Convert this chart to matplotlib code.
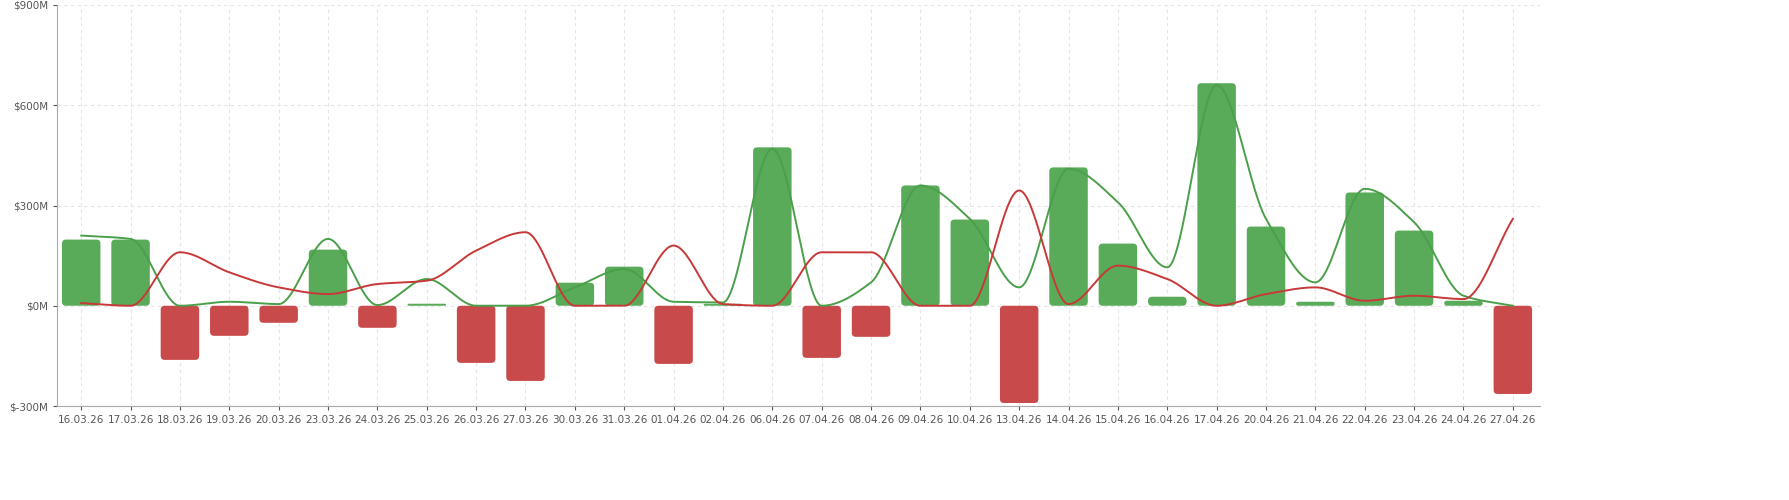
import matplotlib
matplotlib.use("Agg")
import matplotlib.pyplot as plt
import numpy as np
from matplotlib.patches import FancyBboxPatch

dates = ["16.03.26","17.03.26","18.03.26","19.03.26","20.03.26","23.03.26","24.03.26","25.03.26","26.03.26","27.03.26",
         "30.03.26","31.03.26","01.04.26","02.04.26","06.04.26","07.04.26","08.04.26","09.04.26","10.04.26","13.04.26",
         "14.04.26","15.04.26","16.04.26","17.04.26","20.04.26","21.04.26","22.04.26","23.04.26","24.04.26","27.04.26"]
net = [198,198,-162,-90,-51,168,-66,6,-171,-225,69,117,-174,6,474,-156,-93,360,258,-291,
       414,186,27,666,237,12,339,225,15,-264]
inflow = [210,200,0,12,5,200,2,80,0,0,55,110,12,10,470,0,70,360,260,55,
          410,310,115,660,260,70,350,250,30,0]
outflow = [8,0,160,100,55,35,65,75,165,220,0,0,180,5,0,160,160,0,0,345,
           5,120,80,0,35,55,15,30,20,260]

GREEN = "#5aab59"; RED = "#c94a4a"

def monotone(x, y, n=40):
    x = np.asarray(x, float); y = np.asarray(y, float)
    h = np.diff(x); d = np.diff(y) / h
    m = np.zeros_like(y)
    m[0] = d[0]; m[-1] = d[-1]
    for i in range(1, len(y) - 1):
        if d[i-1] * d[i] <= 0:
            m[i] = 0
        else:
            m[i] = 3 * (h[i-1] + h[i]) / ((2*h[i] + h[i-1]) / d[i-1] + (h[i] + 2*h[i-1]) / d[i])
    xs, ys = [], []
    for i in range(len(h)):
        t = np.linspace(0, 1, n, endpoint=False)
        h00 = 2*t**3 - 3*t**2 + 1; h10 = t**3 - 2*t**2 + t
        h01 = -2*t**3 + 3*t**2; h11 = t**3 - t**2
        xs.append(x[i] + t*h[i])
        ys.append(h00*y[i] + h10*h[i]*m[i] + h01*y[i+1] + h11*h[i]*m[i+1])
    xs.append([x[-1]]); ys.append([y[-1]])
    return np.concatenate(xs), np.concatenate(ys)

fig = plt.figure(figsize=(17.9, 5), dpi=100)
ax = fig.add_axes([57/1790, 94/500, (1540-57)/1790, (406-5)/500])
x = np.arange(len(dates))
colors = [GREEN if v >= 0 else RED for v in net]
bars = ax.bar(x, net, width=0.78, color=colors)
for b in bars:
    b.set_visible(False)
    bx, by = b.get_x(), b.get_y(); w, hgt = b.get_width(), b.get_height()
    y0 = min(by, by + hgt); hh = abs(hgt)
    r = min(0.08, hh / 150 / 2) if hh > 0 else 0
    p = FancyBboxPatch((bx, y0), w, hh, boxstyle=f"round,pad=0,rounding_size={max(r,1e-4)}",
                       mutation_aspect=150, facecolor=b.get_facecolor(), edgecolor="none", zorder=2)
    ax.add_patch(p)

gx, gy = monotone(x, inflow)
rx, ry = monotone(x, outflow)
ax.plot(gx, gy, color="#4a9f49", lw=1.4, zorder=3)
ax.plot(rx, ry, color="#c93838", lw=1.4, zorder=3)

ax.set_xlim(-0.49, 29.55)
ax.set_ylim(-300, 900)
ax.set_yticks([-300, 0, 300, 600, 900])
ax.set_yticklabels(["$-300M", "$0M", "$300M", "$600M", "$900M"])
ax.set_xticks(x)
ax.set_xticklabels(dates)
ax.tick_params(labelsize=7.5, colors="#555555", length=3)
ax.grid(True, color="#e4e4e4", ls=(0, (3, 3)), lw=0.8)
ax.set_axisbelow(True)
for s in ["top", "right"]:
    ax.spines[s].set_visible(False)
for s in ["left", "bottom"]:
    ax.spines[s].set_color("#aaaaaa")
fig.savefig("out.png", dpi=100)
